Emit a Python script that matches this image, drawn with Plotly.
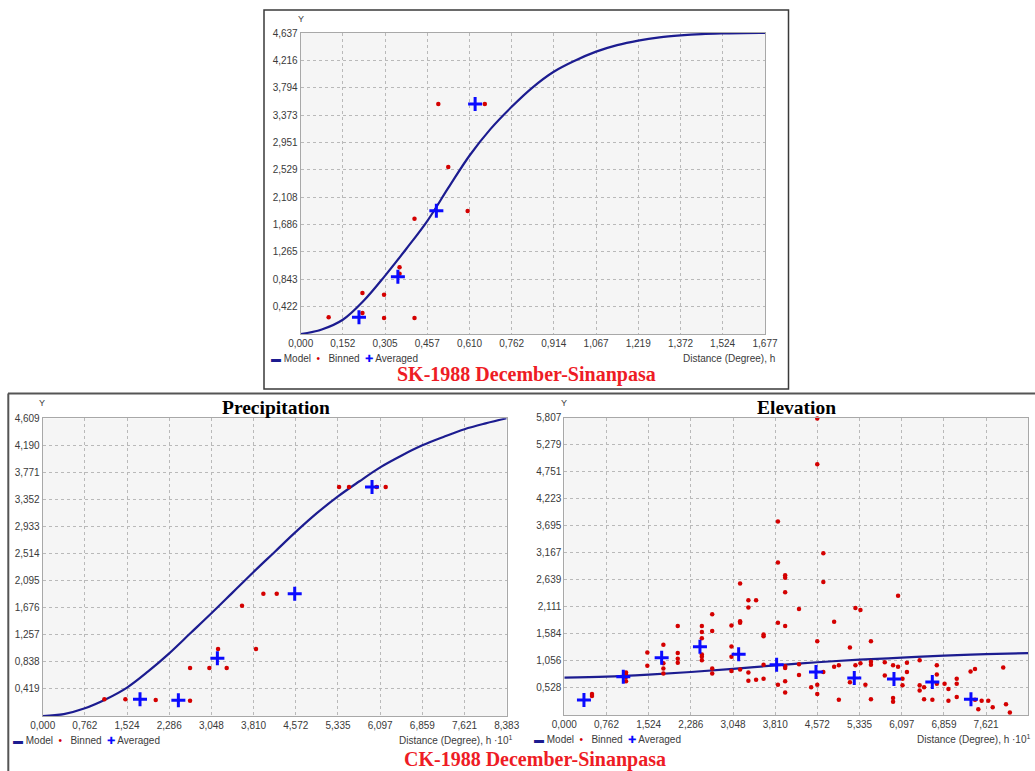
import plotly.graph_objects as go

W, H = 1035, 771

# ---------------- data ----------------
# Top panel (SK-1988)
sk_xticks = ["0,000", "0,152", "0,305", "0,457", "0,610", "0,762", "0,914", "1,067", "1,219", "1,372", "1,524", "1,677"]
sk_yticks = ["0,422", "0,843", "1,265", "1,686", "2,108", "2,529", "2,951", "3,373", "3,794", "4,216", "4,637"]
sk_model_h = [0, 0.076, 0.152, 0.229, 0.305, 0.381, 0.457, 0.533, 0.610, 0.686, 0.762, 0.838, 0.914, 0.990,
              1.067, 1.143, 1.219, 1.296, 1.372, 1.448, 1.524, 1.600, 1.677]
sk_model_g = [0, 0.07, 0.22, 0.52, 0.90, 1.31, 1.74, 2.25, 2.75, 3.16, 3.50, 3.80, 4.04, 4.21,
              4.35, 4.45, 4.52, 4.57, 4.60, 4.62, 4.63, 4.636, 4.637]
sk_binned_h = [0.101, 0.223, 0.223, 0.301, 0.301, 0.357, 0.357, 0.411, 0.411, 0.497, 0.533, 0.603, 0.665]
sk_binned_g = [0.257, 0.632, 0.323, 0.606, 0.246, 1.027, 0.929, 1.777, 0.246, 3.543, 2.573, 1.895, 3.543]
sk_avg_h = [0.2105, 0.351, 0.490, 0.630]
sk_avg_g = [0.257, 0.883, 1.900, 3.543]

# Precipitation panel
pr_xticks = ["0,000", "0,762", "1,524", "2,286", "3,048", "3,810", "4,572", "5,335", "6,097", "6,859", "7,621", "8,383"]
pr_yticks = ["0,419", "0,838", "1,257", "1,676", "2,095", "2,514", "2,933", "3,352", "3,771", "4,190", "4,609"]
pr_model_h = [0, 0.381, 0.762, 1.143, 1.524, 1.905, 2.286, 2.667, 3.048, 3.429, 3.810, 4.191, 4.572, 4.953,
              5.335, 5.716, 6.097, 6.478, 6.859, 7.240, 7.621, 8.002, 8.383]
pr_model_g = [0, 0.03, 0.12, 0.26, 0.44, 0.69, 0.97, 1.28, 1.59, 1.91, 2.23, 2.54, 2.85, 3.14,
              3.40, 3.63, 3.85, 4.03, 4.19, 4.32, 4.44, 4.53, 4.609]
pr_binned_h = [1.114, 1.494, 2.042, 2.662, 2.662, 3.011, 3.168, 3.324, 3.601, 3.854, 3.987, 4.228, 5.354, 5.534, 6.034, 6.197]
pr_binned_g = [0.258, 0.258, 0.248, 0.237, 0.743, 0.743, 1.037, 0.743, 1.708, 1.037, 1.894, 1.894, 3.546, 3.546, 3.546, 3.546]
pr_avg_h = [1.758, 2.451, 3.156, 4.553, 5.950]
pr_avg_g = [0.258, 0.243, 0.893, 1.894, 3.546]

# Elevation panel
el_xticks = ["0,000", "0,762", "1,524", "2,286", "3,048", "3,810", "4,572", "5,335", "6,097", "6,859", "7,621", "8,383"]
el_yticks = ["0,528", "1,056", "1,584", "2,111", "2,639", "3,167", "3,695", "4,223", "4,751", "5,279", "5,807"]
el_model_h = [0, 0.762, 1.524, 2.286, 3.048, 3.81, 4.572, 5.335, 6.097, 6.859, 7.621, 8.383]
el_model_g = [0.73, 0.75, 0.79, 0.84, 0.90, 0.97, 1.03, 1.08, 1.12, 1.16, 1.19, 1.21]
el_binned_h = [
    0.50, 0.50,
    1.115, 1.115, 1.115, 1.115,
    1.50, 1.50,
    1.79, 1.79, 1.79, 1.79,
    2.05, 2.05, 2.05, 2.05,
    2.485, 2.485, 2.485, 2.485, 2.485, 2.485,
    2.672, 2.672, 2.672, 2.672,
    3.02, 3.02, 3.02, 3.02,
    3.176, 3.176, 3.176, 3.176,
    3.326, 3.326, 3.326, 3.326,
    3.465, 3.465,
    3.60, 3.60, 3.60, 3.60,
    3.86, 3.86, 3.86, 3.86,
    3.99, 3.99, 3.99, 3.99, 3.99, 3.99, 3.99, 3.99,
    4.24, 4.24, 4.24,
    4.46,
    4.57, 4.57, 4.57, 4.57, 4.57,
    4.68, 4.68, 4.68,
    4.875, 4.875,
    4.96, 4.96,
    5.16, 5.16,
    5.26, 5.26,
    5.35, 5.35,
    5.44,
    5.54, 5.54, 5.54, 5.54,
    5.79, 5.79,
    5.94, 5.94, 5.94,
    6.03, 6.03,
    6.11, 6.11,
    6.19, 6.19,
    6.42, 6.42, 6.42,
    6.50, 6.50,
    6.65,
    6.73, 6.73, 6.73,
    6.87,
    6.94, 6.94,
    7.09, 7.09, 7.09,
    7.34,
    7.42, 7.42,
    7.48, 7.54, 7.66, 7.74, 7.93, 7.98, 8.05,
]
el_binned_g = [
    0.41, 0.37,
    0.83, 0.78, 0.74, 0.66,
    1.22, 0.96,
    1.37, 1.01, 0.91, 0.81,
    1.74, 1.21, 1.10, 1.02,
    1.74, 1.62, 1.50, 1.18, 1.14, 1.07,
    1.97, 1.64, 0.91, 0.81,
    1.75, 1.34, 1.14, 0.86,
    2.57, 1.83, 1.80, 0.89,
    2.24, 2.10, 0.83, 0.67,
    2.24, 0.69,
    1.57, 1.54, 0.98, 0.71,
    3.78, 2.98, 1.80, 0.59,
    2.73, 2.68, 2.40, 1.74, 0.95, 0.92, 0.66, 0.44,
    2.07, 0.99, 0.78,
    0.54,
    5.79, 4.90, 1.44, 0.59, 0.41,
    3.16, 2.60, 0.84,
    1.82, 0.94,
    0.97, 0.30,
    1.32, 0.64,
    2.09, 0.97,
    2.05, 1.01,
    0.59,
    1.44, 1.04, 0.98, 0.31,
    1.03, 0.77,
    0.97, 0.33, 0.26,
    2.33, 0.94,
    0.71, 0.58,
    1.02, 0.84,
    1.07, 0.58, 0.48,
    0.54, 0.31,
    0.30,
    0.97, 0.79, 0.61,
    0.61,
    0.51, 0.28,
    0.71, 0.61, 0.35,
    0.85,
    0.90, 0.30,
    0.11, 0.28, 0.28, 0.15, 0.93, 0.21, 0.05,
]
el_avg_h = [0.355, 1.066, 1.759, 2.451, 3.150, 3.836, 4.547, 5.239, 5.956, 6.649, 7.347]
el_avg_g = [0.293, 0.749, 1.120, 1.335, 1.185, 0.983, 0.840, 0.723, 0.703, 0.645, 0.306]

# ---------------- styling ----------------
MODEL_C = "#1c1c90"
BIN_C = "#d40000"
AVG_C = "#0a0aff"
FONT = "Liberation Sans"


def num(s):
    return float(s.replace(",", "."))


def px_x(p):
    return p / W


def px_y(p):
    return 1 - p / H


fig = go.Figure()

panels = [
    ("x", "y", sk_model_h, sk_model_g, sk_binned_h, sk_binned_g, sk_avg_h, sk_avg_g),
    ("x2", "y2", pr_model_h, pr_model_g, pr_binned_h, pr_binned_g, pr_avg_h, pr_avg_g),
    ("x3", "y3", el_model_h, el_model_g, el_binned_h, el_binned_g, el_avg_h, el_avg_g),
]
for xa, ya, mh, mg, bh, bg, ah, ag in panels:
    fig.add_trace(go.Scatter(x=mh, y=mg, mode="lines", line=dict(color=MODEL_C, width=2.2, shape="spline", smoothing=1.0),
                             xaxis=xa, yaxis=ya, showlegend=False, name="Model", cliponaxis=True))
    fig.add_trace(go.Scatter(x=bh, y=bg, mode="markers", marker=dict(color=BIN_C, size=4.5, symbol="circle"),
                             xaxis=xa, yaxis=ya, showlegend=False, name="Binned", cliponaxis=False))
    fig.add_trace(go.Scatter(x=ah, y=ag, mode="markers",
                             marker=dict(symbol="cross-thin", size=10, line=dict(color=AVG_C, width=3), color=AVG_C),
                             xaxis=xa, yaxis=ya, showlegend=False, name="Averaged", cliponaxis=False))

# domains (pixel based)
doms = {
    "1": dict(x=(300.7, 765.0), y=(33.0, 334.0)),
    "2": dict(x=(42.7, 506.7), y=(418.3, 716.0)),
    "3": dict(x=(564.3, 1028.3), y=(417.7, 715.0)),
}
tick_sets = {
    "1": (sk_xticks, sk_yticks),
    "2": (pr_xticks, pr_yticks),
    "3": (el_xticks, el_yticks),
}
layout_axes = {}
for k, d in doms.items():
    xt, yt = tick_sets[k]
    xv = [num(s) for s in xt]
    yv = [num(s) for s in yt]
    sfx = "" if k == "1" else k
    common = dict(showgrid=True, gridcolor="#b9b9b9", griddash="dot", gridwidth=1,
                  showline=True, linecolor="#a8a8a8", linewidth=1, mirror=True,
                  zeroline=False, ticks="", tickfont=dict(family=FONT, size=10, color="#3a3a3a"),
                  fixedrange=True, automargin=False)
    layout_axes["xaxis" + sfx] = dict(domain=[px_x(d["x"][0]), px_x(d["x"][1])], range=[0, xv[-1]],
                                      tickvals=xv, ticktext=xt, anchor="y" + sfx, **common)
    layout_axes["yaxis" + sfx] = dict(domain=[px_y(d["y"][1]), px_y(d["y"][0])], range=[0, yv[-1]],
                                      tickvals=yv, ticktext=yt, anchor="x" + sfx, **common)

fig.update_layout(**layout_axes)

ann = []


def text(x, y, s, size=10, color="#3a3a3a", family=FONT, xanchor="center", yanchor="middle"):
    ann.append(dict(x=px_x(x), y=px_y(y), xref="paper", yref="paper", text=s, showarrow=False,
                    font=dict(family=family, size=size, color=color), xanchor=xanchor, yanchor=yanchor))


# Y labels
text(300.5, 19, "Y", size=9)
text(41.5, 403, "Y", size=9)
text(563.5, 403, "Y", size=9)

# panel titles
text(276, 407, "<b>Precipitation</b>", size=19.5, color="#000000", family="Liberation Serif")
text(796, 407, "<b>Elevation</b>", size=19.5, color="#000000", family="Liberation Serif")

# x axis titles
text(777, 358, "Distance (Degree), h", size=10, xanchor="right")
text(515, 740, "Distance (Degree), h ·10<sup>1</sup>", size=10, xanchor="right")
text(1033, 739, "Distance (Degree), h ·10<sup>1</sup>", size=10, xanchor="right")

# legends
leg = ('<span style="color:%s"><b>▬</b></span> Model  <span style="color:%s">•</span>   Binned  '
       '<span style="color:%s">✚</span> Averaged') % (MODEL_C, BIN_C, AVG_C)
text(269, 358, leg, size=10, xanchor="left")
text(11, 740, leg, size=10, xanchor="left")
text(532, 739, leg, size=10, xanchor="left")

# captions
text(526, 374, "<b>SK-1988 December-Sinanpasa</b>", size=20, color="#ee1c25", family="Liberation Serif")
text(535, 759, "<b>CK-1988 December-Sinanpasa</b>", size=20, color="#ee1c25", family="Liberation Serif")

shapes = [
    dict(type="rect", xref="paper", yref="paper", x0=px_x(264), x1=px_x(788.5), y0=px_y(389), y1=px_y(10),
         line=dict(color="#3a3a3a", width=1.5)),
    dict(type="line", xref="paper", yref="paper", x0=px_x(8), x1=px_x(1035), y0=px_y(393.5), y1=px_y(393.5),
         line=dict(color="#555555", width=2)),
    dict(type="line", xref="paper", yref="paper", x0=px_x(8.3), x1=px_x(8.3), y0=px_y(393.5), y1=0,
         line=dict(color="#555555", width=2)),
]

fig.update_layout(width=W, height=H, margin=dict(l=0, r=0, t=0, b=0, autoexpand=False),
                  paper_bgcolor="white", plot_bgcolor="#f5f5f5",
                  annotations=ann, shapes=shapes, showlegend=False)

fig.write_html("out.html", config={"displayModeBar": False},
               post_script="document.body.style.margin='0px';document.body.style.padding='0px';"
                           "document.body.style.overflow='hidden';")
